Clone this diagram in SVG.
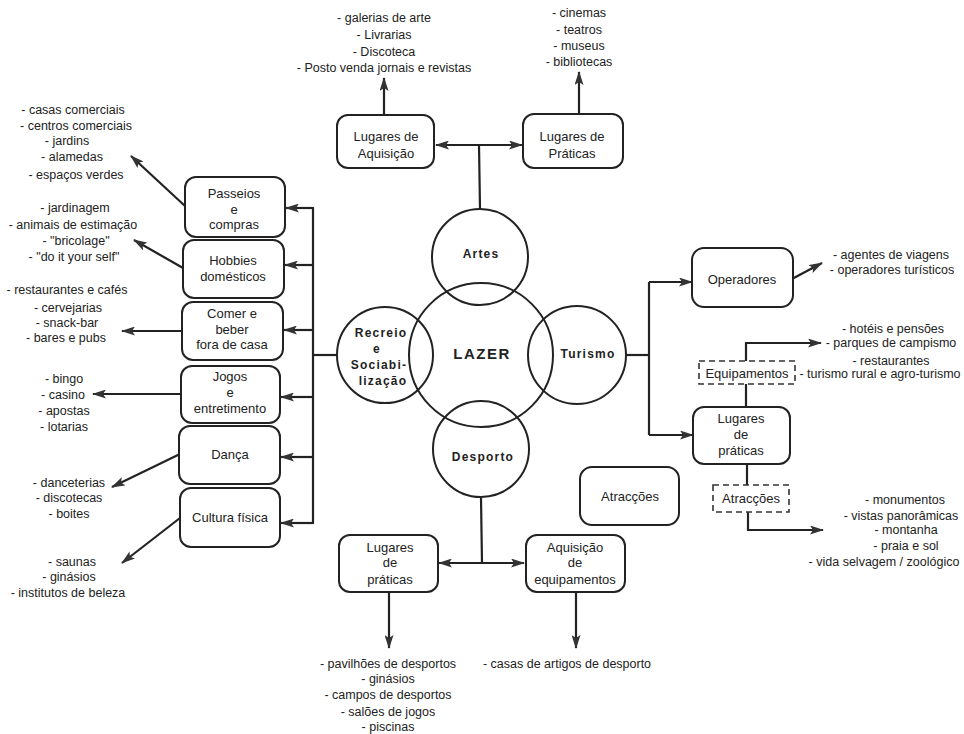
<svg xmlns="http://www.w3.org/2000/svg" width="964" height="734" viewBox="0 0 964 734">
<style>
text{font-family:"Liberation Sans",Arial,sans-serif;fill:#222;text-anchor:middle}
.l{font-size:12.5px}
.b{font-size:13px}
.c{font-size:12px;font-weight:bold;letter-spacing:1.2px}
.z{font-size:15px;letter-spacing:1.5px;font-weight:bold}
.box{fill:#fff;stroke:#222;stroke-width:2}
.dash{fill:none;stroke:#333;stroke-width:1.6;stroke-dasharray:6 4}
.circ{fill:none;stroke:#222;stroke-width:2}
.ln{fill:none;stroke:#222;stroke-width:2.2}
.a{marker-end:url(#ah)}
.aa{marker-end:url(#ah);marker-start:url(#ah)}
</style>
<defs>
<marker id="ah" markerUnits="userSpaceOnUse" viewBox="0 0 14 9" refX="13" refY="4.5" markerWidth="14" markerHeight="9" orient="auto-start-reverse">
<path d="M0,0 L14,4.5 L0,9 L3,4.5 z" fill="#333"/>
</marker>
</defs>
<rect width="964" height="734" fill="#fff"/>

<g id="connectors">
<line class="ln aa" x1="436" y1="145" x2="522" y2="145"/>
<line class="ln" x1="479" y1="145" x2="480" y2="209"/>
<line class="ln a" x1="384" y1="115" x2="384" y2="78"/>
<line class="ln a" x1="579" y1="114" x2="579" y2="72"/>
<line class="ln" x1="313" y1="207" x2="313" y2="524"/>
<line class="ln" x1="313" y1="355" x2="337" y2="355"/>
<line class="ln a" x1="313" y1="208" x2="286" y2="208"/>
<line class="ln a" x1="313" y1="265" x2="285" y2="265"/>
<line class="ln a" x1="313" y1="330" x2="284" y2="330"/>
<line class="ln a" x1="313" y1="397" x2="281" y2="397"/>
<line class="ln a" x1="313" y1="457" x2="281" y2="457"/>
<line class="ln a" x1="313" y1="523" x2="281" y2="523"/>
<line class="ln a" x1="185" y1="206" x2="131" y2="156"/>
<line class="ln a" x1="183" y1="268" x2="134" y2="240"/>
<line class="ln a" x1="182" y1="331" x2="122" y2="331"/>
<line class="ln a" x1="181" y1="394" x2="93" y2="394"/>
<line class="ln a" x1="180" y1="454" x2="112" y2="487"/>
<line class="ln a" x1="180" y1="518" x2="122" y2="563"/>
<line class="ln" x1="626" y1="355" x2="649" y2="355"/>
<line class="ln" x1="649" y1="282" x2="649" y2="435"/>
<line class="ln a" x1="649" y1="282" x2="692" y2="282"/>
<line class="ln a" x1="649" y1="435" x2="693" y2="435"/>
<line class="ln a" x1="790" y1="280" x2="822" y2="263"/>
<polyline class="ln a" points="746,361 746,343 821,343"/>
<line class="ln" x1="746" y1="384" x2="746" y2="407"/>
<line class="ln" x1="747" y1="464" x2="747" y2="485"/>
<polyline class="ln a" points="748,512 748,530 823,530"/>
<line class="ln" x1="481" y1="498" x2="482" y2="563"/>
<line class="ln aa" x1="439" y1="563" x2="524" y2="563"/>
<line class="ln a" x1="389" y1="592" x2="389" y2="648"/>
<line class="ln a" x1="576" y1="592" x2="576" y2="648"/>
</g>

<g id="lazer">
<circle class="circ" cx="481" cy="355" r="72"/>
<text class="z" x="482" y="359">LAZER</text>
</g>
<g id="artes">
<circle class="circ" cx="480" cy="257" r="48"/>
<text class="c" x="481" y="258">Artes</text>
</g>
<g id="recreio">
<circle class="circ" cx="385" cy="355" r="48"/>
<text class="c" x="381" y="337">Recreio</text>
<text class="c" x="377" y="353">e</text>
<text class="c" x="379" y="369">Sociabi-</text>
<text class="c" x="383" y="385">lização</text>
</g>
<g id="turismo">
<circle class="circ" cx="577" cy="355" r="49"/>
<text class="c" x="588" y="358">Turismo</text>
</g>
<g id="desporto">
<circle class="circ" cx="481" cy="449" r="48"/>
<text class="c" x="483" y="461">Desporto</text>
</g>

<g id="lug-aquisicao">
<rect class="box" x="337" y="115" width="97" height="53" rx="11"/>
<text class="b" x="386" y="141">Lugares de</text>
<text class="b" x="386" y="158">Aquisição</text>
</g>
<g id="lug-praticas-artes">
<rect class="box" x="523" y="114" width="100" height="54" rx="11"/>
<text class="b" x="572" y="141">Lugares de</text>
<text class="b" x="572" y="158">Práticas</text>
</g>
<g id="list-aquisicao">
<text class="l" x="384" y="22">- galerias de arte</text>
<text class="l" x="384" y="39">- Livrarias</text>
<text class="l" x="384" y="56">- Discoteca</text>
<text class="l" x="384" y="72">- Posto venda jornais e revistas</text>
</g>
<g id="list-praticas-artes">
<text class="l" x="579" y="17">- cinemas</text>
<text class="l" x="579" y="34">- teatros</text>
<text class="l" x="579" y="50">- museus</text>
<text class="l" x="579" y="66">- bibliotecas</text>
</g>

<g id="passeios">
<rect class="box" x="185" y="177" width="100" height="60" rx="11"/>
<text class="b" x="234" y="198">Passeios</text>
<text class="b" x="234" y="214">e</text>
<text class="b" x="234" y="229">compras</text>
</g>
<g id="hobbies">
<rect class="box" x="183" y="240" width="101" height="58" rx="11"/>
<text class="b" x="233" y="265">Hobbies</text>
<text class="b" x="233" y="281">domésticos</text>
</g>
<g id="comer">
<rect class="box" x="182" y="302" width="101" height="58" rx="11"/>
<text class="b" x="232" y="318">Comer e</text>
<text class="b" x="232" y="334">beber</text>
<text class="b" x="232" y="349">fora de casa</text>
</g>
<g id="jogos">
<rect class="box" x="181" y="366" width="99" height="57" rx="11"/>
<text class="b" x="230" y="381">Jogos</text>
<text class="b" x="230" y="397">e</text>
<text class="b" x="230" y="413">entretimento</text>
</g>
<g id="danca">
<rect class="box" x="179" y="426" width="101" height="58" rx="11"/>
<text class="b" x="230" y="459">Dança</text>
</g>
<g id="cultura">
<rect class="box" x="180" y="488" width="100" height="59" rx="11"/>
<text class="b" x="230" y="522">Cultura física</text>
</g>

<g id="list-passeios">
<text class="l" x="73" y="114">- casas comerciais</text>
<text class="l" x="76" y="130">- centros comerciais</text>
<text class="l" x="67" y="145">- jardins</text>
<text class="l" x="72" y="161">- alamedas</text>
<text class="l" x="76" y="179">- espaços verdes</text>
</g>
<g id="list-hobbies">
<text class="l" x="75" y="212">- jardinagem</text>
<text class="l" x="73" y="229">- animais de estimação</text>
<text class="l" x="76" y="245">- "bricolage"</text>
<text class="l" x="74" y="261">- "do it your self"</text>
</g>
<g id="list-comer">
<text class="l" x="67" y="294">- restaurantes e cafés</text>
<text class="l" x="68" y="312">- cervejarias</text>
<text class="l" x="67" y="327">- snack-bar</text>
<text class="l" x="66" y="342">- bares e pubs</text>
</g>
<g id="list-jogos">
<text class="l" x="64" y="383">- bingo</text>
<text class="l" x="63" y="399">- casino</text>
<text class="l" x="64" y="415">- apostas</text>
<text class="l" x="64" y="431">- lotarias</text>
</g>
<g id="list-danca">
<text class="l" x="69" y="487">- danceterias</text>
<text class="l" x="69" y="502">- discotecas</text>
<text class="l" x="69" y="518">- boites</text>
</g>
<g id="list-cultura">
<text class="l" x="72" y="566">- saunas</text>
<text class="l" x="69" y="581">- ginásios</text>
<text class="l" x="68" y="597">- institutos de beleza</text>
</g>

<g id="operadores">
<rect class="box" x="692" y="248" width="101" height="59" rx="12"/>
<text class="b" x="742" y="284">Operadores</text>
</g>
<g id="list-operadores">
<text class="l" x="891" y="259">- agentes de viagens</text>
<text class="l" x="892" y="274">- operadores turísticos</text>
</g>
<g id="equipamentos">
<rect class="dash" x="699" y="361" width="96" height="23"/>
<text class="b" x="747" y="378">Equipamentos</text>
</g>
<g id="list-equipamentos">
<text class="l" x="893" y="333">- hotéis e pensões</text>
<text class="l" x="891" y="347">- parques de campismo</text>
<text class="l" x="891" y="365">- restaurantes</text>
<text class="l" x="880" y="378">- turismo rural e agro-turismo</text>
</g>
<g id="lug-praticas-turismo">
<rect class="box" x="693" y="407" width="97" height="57" rx="11"/>
<text class="b" x="741" y="423">Lugares</text>
<text class="b" x="741" y="439">de</text>
<text class="b" x="741" y="455">práticas</text>
</g>
<g id="atraccoes-dash">
<rect class="dash" x="713" y="485" width="76" height="27"/>
<text class="b" x="751" y="503">Atracções</text>
</g>
<g id="list-atraccoes">
<text class="l" x="905" y="504">- monumentos</text>
<text class="l" x="901" y="520">- vistas panorâmicas</text>
<text class="l" x="906" y="534">- montanha</text>
<text class="l" x="906" y="550">- praia e sol</text>
<text class="l" x="884" y="566">- vida selvagem / zoológico</text>
</g>
<g id="atraccoes">
<rect class="box" x="580" y="467" width="99" height="58" rx="12"/>
<text class="b" x="630" y="501">Atracções</text>
</g>

<g id="lug-praticas-desporto">
<rect class="box" x="339" y="535" width="99" height="57" rx="11"/>
<text class="b" x="390" y="552">Lugares</text>
<text class="b" x="390" y="567">de</text>
<text class="b" x="390" y="584">práticas</text>
</g>
<g id="aquisicao-equip">
<rect class="box" x="526" y="535" width="99" height="57" rx="11"/>
<text class="b" x="575" y="552">Aquisição</text>
<text class="b" x="575" y="567">de</text>
<text class="b" x="575" y="584">equipamentos</text>
</g>
<g id="list-lugares-desporto">
<text class="l" x="388" y="668">- pavilhões de desportos</text>
<text class="l" x="388" y="683">- ginásios</text>
<text class="l" x="388" y="699">- campos de desportos</text>
<text class="l" x="388" y="716">- salões de jogos</text>
<text class="l" x="388" y="731">- piscinas</text>
</g>
<g id="list-aquisicao-equip">
<text class="l" x="567" y="668">- casas de artigos de desporto</text>
</g>
</svg>
